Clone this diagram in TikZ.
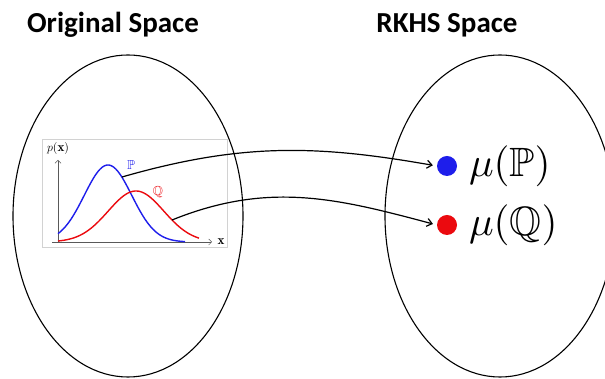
\documentclass[tikz,border=0pt]{standalone}
\usepackage{amsmath,amssymb}
\usepackage{fontspec}
\newfontfamily\titlefont{Carlito}
\usetikzlibrary{arrows.meta,positioning,shapes.geometric}
\definecolor{pblue}{RGB}{30,30,235}
\definecolor{qred}{RGB}{235,10,15}
\tikzset{
  space/.style={draw, ellipse, line width=1.1pt, minimum width=230pt, minimum height=322pt},
  title/.style={font=\titlefont\bfseries\fontsize{29}{32}\selectfont, anchor=base},
  embed/.style={-{Straight Barb[length=5pt,width=8pt]}, line width=1.2pt, shorten >=4pt},
  meanpt/.style={circle, inner sep=0pt, minimum size=20pt},
  meanlbl/.style={inner sep=0pt, scale=4.1},
  plotlbl/.style={font=\fontsize{13}{15}\selectfont}
}

\begin{document}
\begin{tikzpicture}[x=1pt,y=1pt,node distance=11pt]
\useasboundingbox (0,0) rectangle (605,379);

% Titles
\node[title] (torig) at (113,346) {Original Space};
\node[title] (trkhs) at (447,346) {RKHS Space};

% The two spaces
\node[space] (orig) at (128,163) {};
\node[space] (rkhs) at (500,163) {};

% Density plot
\draw[gray!35, line width=0.6pt] (42,132) rectangle (227,240);
\draw[-{Straight Barb[length=3pt]}, gray!70!black, line width=0.5pt] (52,137) -- (212,137);
\draw[-{Straight Barb[length=3pt]}, gray!70!black, line width=0.5pt] (58,137) -- (58,219);
\node[plotlbl] (xlbl) at (221,137) {$\mathbf{x}$};
\node[plotlbl] (plbl) at (58,230) {$p(\mathbf{x})$};
\draw[pblue, line width=1.4pt, domain=58:185, samples=80, smooth]
  plot (\x, {137+77*exp(-((\x-108)^2)/1126)});
\draw[qred, line width=1.4pt, domain=58:199, samples=80, smooth]
  plot (\x, {137+51*exp(-((\x-136)^2)/1542)});
\node[plotlbl, pblue] (plab) at (131,214) {$\mathbb{P}$};
\node[plotlbl, qred] (qlab) at (158,187) {$\mathbb{Q}$};

% Mean embeddings
\node[meanpt, fill=pblue] (mup) at (447,213) {};
\node[meanpt, fill=qred] (muq) at (447,154) {};
\node[meanlbl, right=of mup] (mupl) {$\mu(\mathbb{P})$};
\node[meanlbl, right=of muq] (muql) {$\mu(\mathbb{Q})$};

% Arrows
\coordinate (pstart) at (122,202);
\coordinate (qstart) at (172,159);
\draw[embed] (pstart) to[out=16, in=170] (mup.west);
\draw[embed] (qstart) to[out=22, in=165] (muq.west);
\end{tikzpicture}
\end{document}
